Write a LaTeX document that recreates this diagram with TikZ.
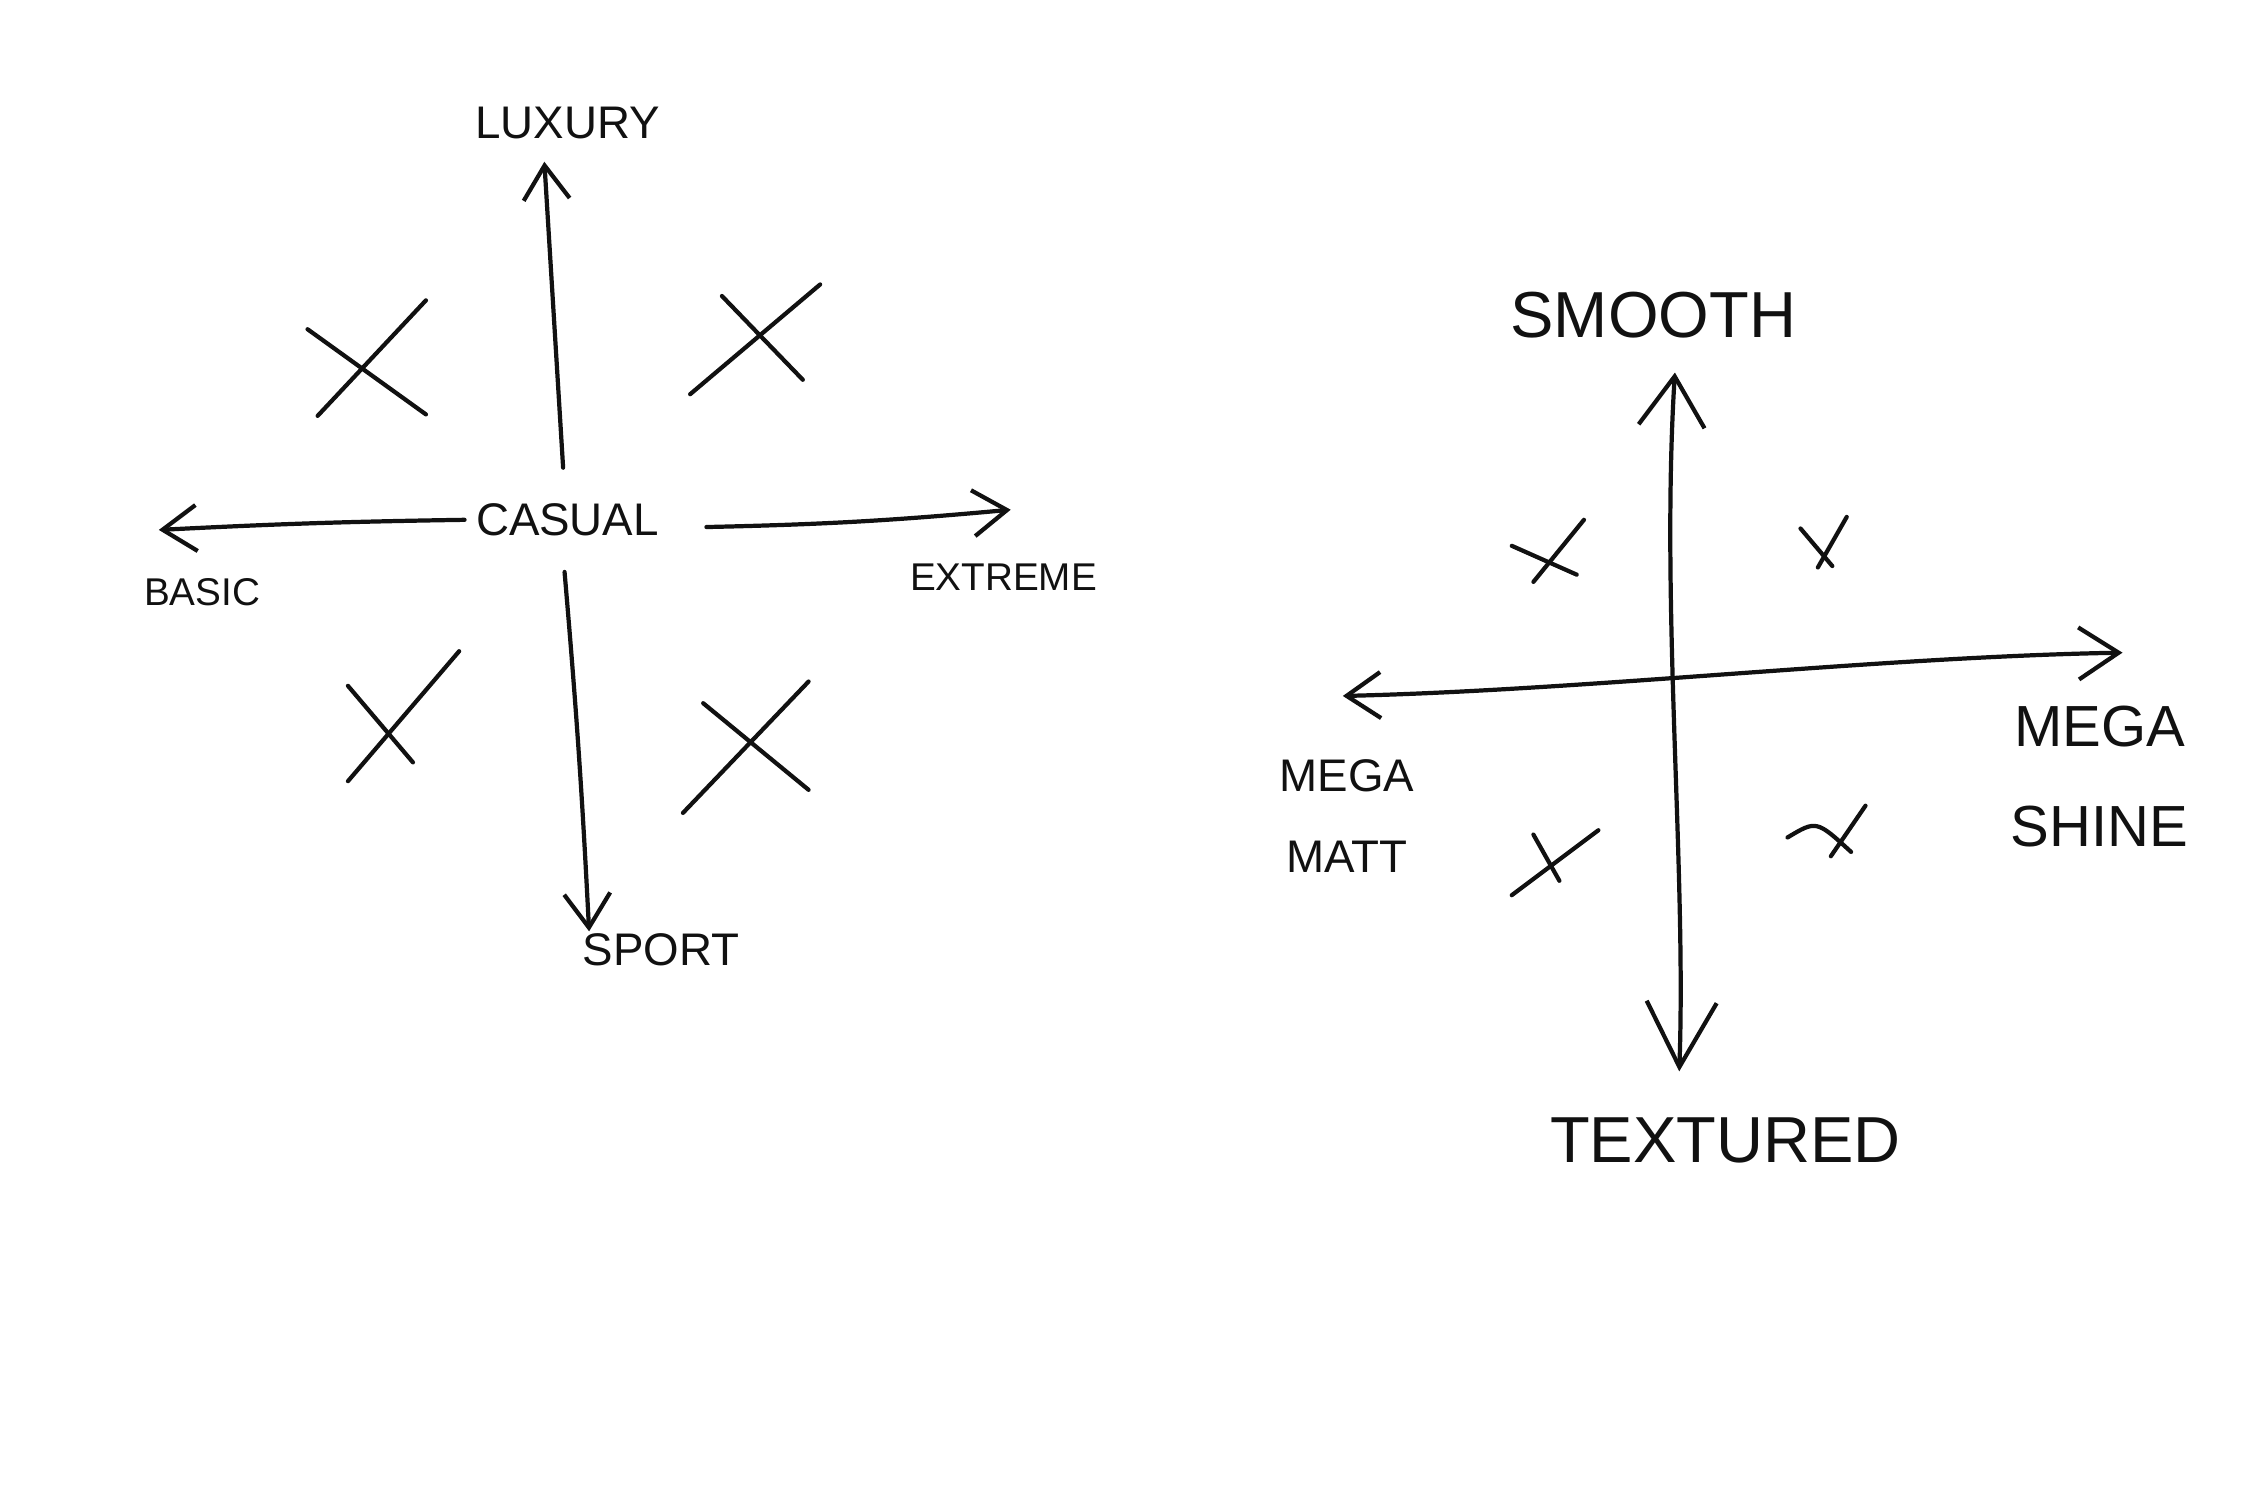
\documentclass[tikz,border=0pt]{standalone}
\usepackage{fontspec}
\setmainfont{Liberation Sans}
\usetikzlibrary{arrows.meta}
\definecolor{ink}{HTML}{111111}
\newcommand{\fsTiny}{\fontsize{11}{13}\selectfont}
\newcommand{\fsSmall}{\fontsize{13}{23}\selectfont}
\newcommand{\fsMid}{\fontsize{16.5}{28.5}\selectfont}
\newcommand{\fsBig}{\fontsize{18.5}{22}\selectfont}
\begin{document}
\begin{tikzpicture}[x=0.01444cm, y=-0.01444cm, line cap=round, line join=round,
    pen/.style={draw=ink, line width=1.2pt},
    word/.style={text=ink, inner sep=1pt},
    tipS/.style={-{Straight Barb[length=3.4mm, width=4.6mm]}},
    tipsS/.style={{Straight Barb[length=3.4mm, width=4.6mm]}-{Straight Barb[length=4mm, width=5.2mm]}},
    tipsL/.style={{Straight Barb[length=5mm, width=6.6mm]}-{Straight Barb[length=6.5mm, width=7mm]}}]
  \useasboundingbox (0,0) rectangle (1568,1042);
  % left map
  \node[word, font=\fsSmall] (casual) at (393,360) {CASUAL};
  \node[word, font=\fsSmall] (luxury) at (393,85) {LUXURY};
  \node[word, font=\fsTiny] (basic) at (140,410) {BASIC};
  \node[word, font=\fsTiny] (extreme) at (695,400) {EXTREME};
  \node[word, font=\fsSmall] (sport) at (458,658) {SPORT};
  \coordinate (luxTip) at (377,112);
  \coordinate (basicTip) at (110,367);
  \coordinate (extTip) at (700,353);
  \coordinate (sportTip) at (408,645);
  \draw[pen, tipS] (casual.north) ++(-3,-22) -- (luxTip);
  \draw[pen, tipS] (casual.west) ++(-5,0) to[bend right=1] (basicTip);
  \draw[pen, tipS] (casual.east) ++(30,5) to[bend right=2] (extTip);
  \draw[pen, tipS] (casual.south) ++(-2,22) to[bend left=1] (sportTip);
  \foreach \ax/\ay/\bx/\by in {213/228/295/287, 220/288/295/208,
      478/273/568/197, 500/205/556/263,
      241/475/286/528, 241/541/318/451,
      487/487/560/547, 473/563/560/472}
    \draw[pen] (\ax,\ay) -- (\bx,\by);
  % right map
  \node[word, font=\fsBig] (smooth) at (1145,218) {SMOOTH};
  \node[word, font=\fsBig] (textured) at (1195,790) {TEXTURED};
  \node[word, font=\fsSmall, align=center] (matt) at (933,565) {MEGA\\MATT};
  \node[word, font=\fsMid, align=center] (shine) at (1454,538) {MEGA\\SHINE};
  \coordinate (smoothTip) at (1160,258);
  \coordinate (texTip) at (1163,742);
  \coordinate (mattTip) at (930,482);
  \coordinate (shineTip) at (1470,452);
  \draw[pen, tipsL] (smoothTip) .. controls (1150,420) and (1168,600) .. (texTip);
  \draw[pen, tipsS] (mattTip) .. controls (1100,478) and (1300,455) .. (shineTip);
  \foreach \ax/\ay/\bx/\by in {1047/378/1092/398, 1062/403/1097/360,
      1247/366/1269/392, 1259/393/1279/358,
      1062/578/1080/610, 1047/620/1107/575,
      1268/593/1292/558}
    \draw[pen] (\ax,\ay) -- (\bx,\by);
  \draw[pen] (1238,580) .. controls (1258,568) .. (1282,590);
\end{tikzpicture}
\end{document}
